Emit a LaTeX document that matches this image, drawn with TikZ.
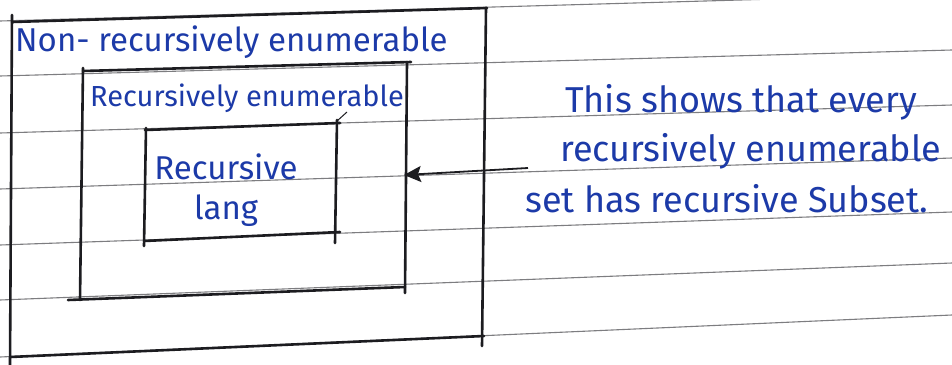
\documentclass[tikz,border=0pt]{standalone}
\usepackage{fontspec}
\setmainfont{Fira Sans}
\usetikzlibrary{arrows.meta}
\definecolor{ink}{RGB}{28,58,168}
\definecolor{pencil}{RGB}{28,28,32}
\definecolor{rule}{RGB}{125,125,128}
\tikzset{
  ruling/.style={draw=rule, line width=1.1pt},
  boxline/.style={draw=pencil, line width=2.6pt, line cap=round},
  hand/.style={text=ink, inner sep=0pt, anchor=base west},
  handbig/.style={hand, font=\fontsize{33}{40}\selectfont},
  handnote/.style={hand, font=\fontsize{36}{40}\selectfont},
}
\begin{document}
\begin{tikzpicture}[x=1pt, y=-1pt]
  % paper
  \fill[white] (0,0) rectangle (952,364);
  \useasboundingbox (0,0) rectangle (952,364);
  \begin{scope}
    \clip (0,0) rectangle (952,364);
    % ruled lines of the notebook page
    \foreach \l/\r in {21/-6, 76/50, 133/105, 189/158, 245/212, 300/263, 357/315}
      \draw[ruling] (0,\l) -- (952,\r);

    % outer box: non-recursively enumerable
    \draw[boxline] (12,22) -- (487,8);
    \draw[boxline] (12,15) -- (10,366);
    \draw[boxline] (486,8) -- (482,346);
    \draw[boxline] (10,357) -- (484,336);

    % middle box: recursively enumerable
    \draw[boxline] (83,71) -- (411,62);
    \draw[boxline] (83,68) -- (80,300);
    \draw[boxline] (407,62) -- (405,293);
    \draw[boxline] (68,300) -- (405,287);

    % inner box: recursive languages
    \draw[boxline] (145,130) -- (340,123);
    \draw[boxline] (146,128) -- (144,246);
    \draw[boxline] (337,120) -- (335,243);
    \draw[boxline] (144,241) -- (340,232);
    \draw[pencil, line width=1pt] (337,121) -- (347,112);
  \end{scope}

  % labels inside the boxes
  \node[handbig] (nre) at (15,51) {Non- recursively enumerable};
  \node[hand, font=\fontsize{29}{30}\selectfont] (re) at (90,106) {Recursively enumerable};
  \node[text=ink, inner sep=0pt, align=center, font=\fontsize{33}{40}\selectfont] (rec) at (226,190) {Recursive\\lang};

  % side note, one node per written line
  \node[handnote] (note1) at (565,112) {This shows that every};
  \node[handnote] (note2) at (560,161) {recursively enumerable};
  \node[handnote] (note3) at (525,212) {set has recursive Subset.};

  % pointer from the note to the recursively enumerable box
  \coordinate (tail) at (528,168);
  \coordinate (head) at (404,175);
  \draw[pencil, line width=1.8pt, -{Stealth[length=17pt, width=16pt, inset=3pt]}] (tail) -- (head);
\end{tikzpicture}
\end{document}
